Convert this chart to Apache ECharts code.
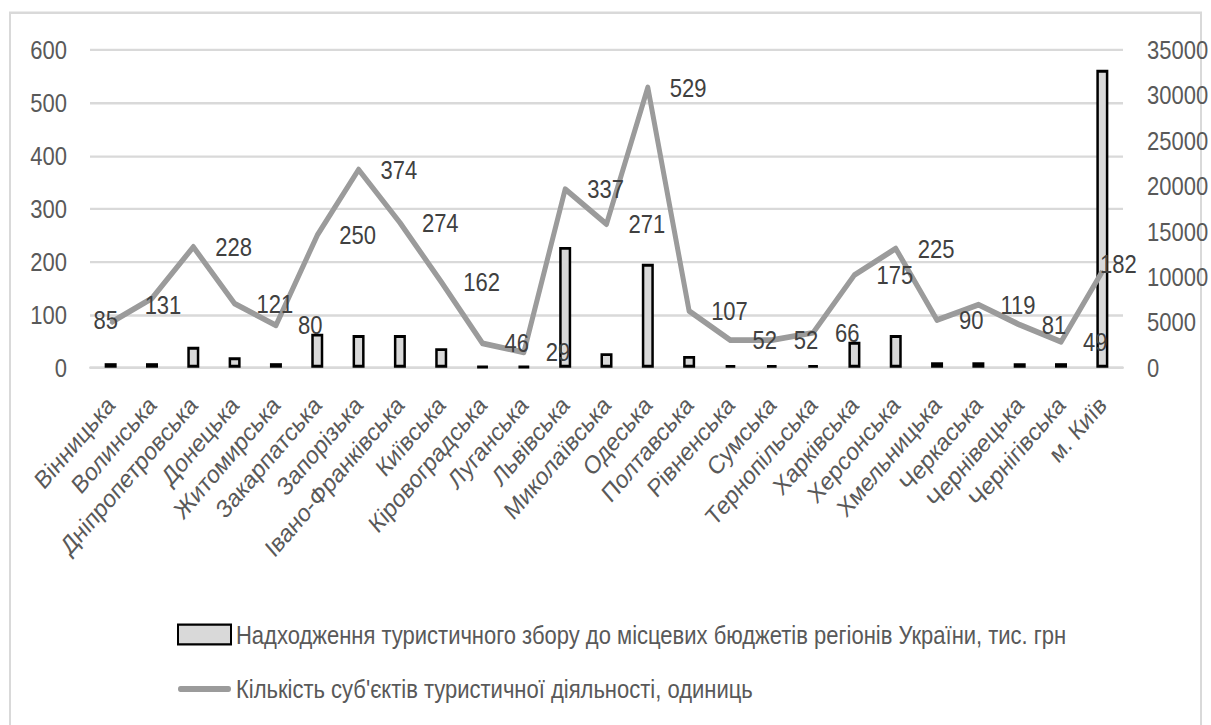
<!DOCTYPE html>
<html>
<head>
<meta charset="utf-8">
<script src="https://cdn.jsdelivr.net/npm/echarts/dist/echarts.min.js"></script>
<style>
html,body{margin:0;padding:0;background:#fff;overflow:hidden;}
#wrap{width:1211px;height:725px;overflow:hidden;}
/* the reference picture is a chart stretched vertically (about 1.16x) */
#chart{width:1211px;height:625px;transform:scaleY(1.16);transform-origin:0 0;}
</style>
</head>
<body>
<div id="wrap"><div id="chart"></div></div>
<script>
// ---- data ----
const regions = ['Вінницька','Волинська','Дніпропетровська','Донецька','Житомирська','Закарпатська','Запорізька','Івано-Франківська','Київська','Кіровоградська','Луганська','Львівська','Миколаївська','Одеська','Полтавська','Рівненська','Сумська','Тернопільська','Харківська','Херсонська','Хмельницька','Черкаська','Чернівецька','Чернігівська','м. Київ'];
// Надходження туристичного збору, тис. грн (right axis, estimated from bars)
const touristTax = [500, 500, 2300, 1150, 500, 3750, 3600, 3600, 2150, 150, 150, 13300, 1600, 11450, 1300, 300, 300, 300, 2850, 3600, 600, 600, 500, 500, 32800];
// Кількість суб'єктів туристичної діяльності, одиниць (left axis)
const touristEntities = [85, 131, 228, 121, 80, 250, 374, 274, 162, 46, 29, 337, 271, 529, 107, 52, 52, 66, 175, 225, 90, 119, 81, 49, 182];
const leftTicks = [0, 100, 200, 300, 400, 500, 600];
const rightTicks = [0, 5000, 10000, 15000, 20000, 25000, 30000, 35000];
const seriesNames = ['Надходження туристичного збору до місцевих бюджетів регіонів України, тис. грн', 'Кількість суб\'єктів туристичної діяльності, одиниць'];

// ---- styles ----
const FONT = "'Liberation Sans', Arial, sans-serif";
const FS = 22;
const AXIS_COLOR = '#595959';
const LABEL_COLOR = '#404040';
const GRID_COLOR = '#d9d9d9';
const LINE_COLOR = '#9b9b9b';
const labelNudge = {
  0: {position: 'inside', offset: [-5, -2]},
  1: {position: 'inside', offset: [11, 6]},
  24: {position: 'inside', offset: [16, -6]}
};

const chart = echarts.init(document.getElementById('chart'), null, {renderer: 'svg'});
chart.setOption({
  animation: false,
  backgroundColor: '#ffffff',
  textStyle: {fontFamily: FONT},
  graphic: [{
    type: 'rect', silent: true, z: -10,
    shape: {x: 10, y: 11, width: 1191, height: 640},
    style: {fill: 'none', stroke: GRID_COLOR, lineWidth: 2}
  }],
  grid: {left: 90, right: 88, top: 43, bottom: 308, containLabel: false, outerBoundsMode: 'none'},
  legend: {
    orient: 'vertical', left: 172, top: 531,
    itemWidth: 53, itemHeight: 17, itemGap: 25,
    textStyle: {fontFamily: FONT, fontSize: FS, color: AXIS_COLOR, lineHeight: 22},
    data: [
      {name: seriesNames[0], icon: 'rect'},
      {name: seriesNames[1], icon: 'path://M0,0 M53,17 M2.6,5.9 L50.4,5.9 A2.6,2.6 0 0 1 50.4,11.1 L2.6,11.1 A2.6,2.6 0 0 1 2.6,5.9 Z',
       itemStyle: {color: LINE_COLOR, borderWidth: 0}}
    ]
  },
  xAxis: {
    type: 'category', data: regions,
    axisLine: {show: true, lineStyle: {color: GRID_COLOR, width: 2}},
    axisTick: {show: false},
    axisLabel: {interval: 0, rotate: 45, margin: 28, padding: [20, 0, 0, 0],
      fontFamily: FONT, fontSize: FS, color: AXIS_COLOR}
  },
  yAxis: [{
    type: 'value', position: 'left',
    min: leftTicks[0], max: leftTicks[leftTicks.length - 1], interval: leftTicks[1] - leftTicks[0],
    axisLine: {show: false}, axisTick: {show: false},
    splitLine: {show: true, lineStyle: {color: GRID_COLOR, width: 2}},
    axisLabel: {margin: 23, fontFamily: FONT, fontSize: FS, color: AXIS_COLOR}
  }, {
    type: 'value', position: 'right',
    min: rightTicks[0], max: rightTicks[rightTicks.length - 1], interval: rightTicks[1] - rightTicks[0],
    axisLine: {show: false}, axisTick: {show: false},
    splitLine: {show: false},
    axisLabel: {margin: 24, fontFamily: FONT, fontSize: FS, color: AXIS_COLOR,
      formatter: (v) => String(v)}
  }],
  series: [{
    name: seriesNames[0], type: 'bar', yAxisIndex: 1,
    data: touristTax, barWidth: 12,
    itemStyle: {color: '#d9d9d9', borderColor: '#000000', borderWidth: 2.5}
  }, {
    name: seriesNames[1], type: 'line', yAxisIndex: 0,
    data: touristEntities.map((v, i) => labelNudge[i] ? {value: v, label: labelNudge[i]} : v),
    symbol: 'circle', symbolSize: 2, showSymbol: true, showAllSymbol: true,
    itemStyle: {color: LINE_COLOR},
    lineStyle: {color: LINE_COLOR, width: 5, join: 'round'},
    label: {show: true, position: 'right', distance: 21,
      fontFamily: FONT, fontSize: FS, color: LABEL_COLOR},
    z: 3
  }]
});
</script>
</body>
</html>
